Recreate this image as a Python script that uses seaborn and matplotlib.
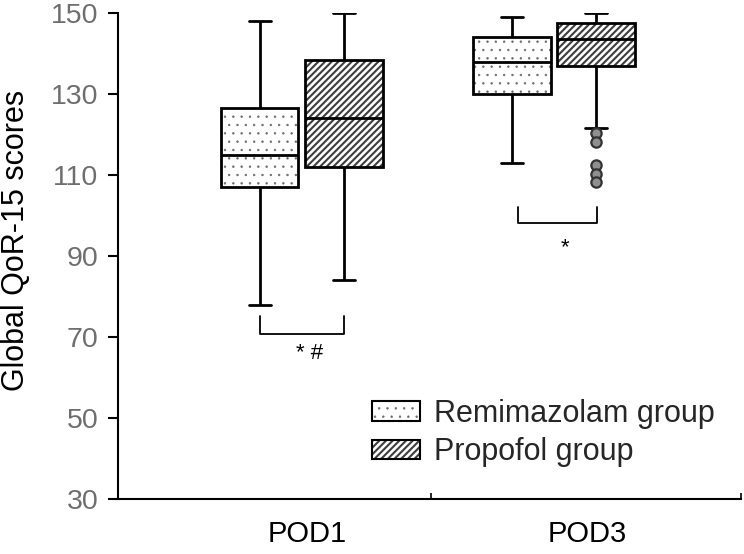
import numpy as np
import pandas as pd
import matplotlib
matplotlib.use("Agg")
import matplotlib.pyplot as plt
from matplotlib.patches import Patch
import seaborn as sns

# ---------------- data ----------------
days = ["POD1", "POD3"]
groups = ["Remimazolam group", "Propofol group"]
# five-number summaries: lower whisker, Q1, median, Q3, upper whisker
remi_pod1 = [78, 107, 115, 126.5, 148]
prop_pod1 = [84, 112, 124, 138.5, 150]
remi_pod3 = [113, 130, 138, 144, 149]
prop_pod3 = [121.5, 137, 143.5, 147.5, 150]
prop_pod3_outliers = [120.3, 118.2, 112.5, 110.3, 108.3]
y_ticks = [30, 50, 70, 90, 110, 130, 150]
ylabel = "Global QoR-15 scores"
# significance brackets: day, left/right ends (in group units), bracket y-range, label, label y
sig_days = [0, 1]
sig_left = [-1, -0.86]
sig_right = [1, 1.02]
sig_low = [70.8, 98.1]
sig_high = [75.2, 102.1]
sig_text = ["* #", "*"]
sig_text_y = [66.0, 92.0]

# ---------------- styling ----------------
sns.set_theme(style="white")
plt.rcParams["font.family"] = ["Liberation Sans", "DejaVu Sans"]
plt.rcParams["hatch.linewidth"] = 1.5

rows = []
for day, vals in zip(days, [remi_pod1, remi_pod3]):
    for v in vals:
        rows.append((day, groups[0], v))
for day, vals in zip(days, [prop_pod1, prop_pod3]):
    for v in vals:
        rows.append((day, groups[1], v))
df = pd.DataFrame(rows, columns=["day", "group", "score"])

fig = plt.figure(figsize=(7.44, 5.54), dpi=100)
ax = fig.add_axes([118 / 744, 1 - 499 / 554, 623 / 744, 486 / 554])

WIDTH = 0.667
GAP = 0.083
sns.boxplot(data=df, x="day", y="score", hue="group", order=days, hue_order=groups,
            width=WIDTH, gap=GAP, whis=np.inf, ax=ax, legend=False,
            palette=["white", "white"], linewidth=2, linecolor="black")

hatches = ["..", "/////"]
hatch_cols = [(0.42, 0.42, 0.42, 1), (0.24, 0.24, 0.24, 1)]
hatch_lws = [0.5, 1.5]
cap_half = 0.044


def style_hatch(p, i):
    p.set_hatch(hatches[i])
    p._hatch_color = hatch_cols[i]
    if hasattr(p, "_hatch_linewidth"):
        p._hatch_linewidth = hatch_lws[i]


for i, cont in enumerate(ax.containers):
    for b in cont.boxes:
        b.set_edgecolor("black")
        style_hatch(b, i)
        b.set_linewidth(2)
    for c in cont.caps:
        xd = np.asarray(c.get_xdata(), dtype=float)
        m = xd.mean()
        c.set_xdata([m - cap_half, m + cap_half])
        c.set_linewidth(2)
    for w in cont.whiskers:
        w.set_linewidth(2)
    for md in cont.medians:
        md.set_linewidth(2)

off = WIDTH / 4
# outliers for Propofol POD3
sns.scatterplot(x=[1 + off] * len(prop_pod3_outliers), y=prop_pod3_outliers, ax=ax,
                s=55, color="#8f8f8f", edgecolor="#333333", linewidth=1.6, zorder=5,
                legend=False)

# significance brackets
for d, l, r, lo, hi, t, ty in zip(sig_days, sig_left, sig_right, sig_low, sig_high,
                                  sig_text, sig_text_y):
    xl = d + l * off
    xr = d + r * off
    ax.plot([xl, xl, xr, xr], [hi, lo, lo, hi], color="black", lw=1.3)
    ax.text((xl + xr) / 2 + 0.03, ty, t, ha="center", va="center", fontsize=16,
            color="black")

ax.set_ylim(30, 150)
ax.set_xlim(-0.730, 1.742)
ax.set_yticks(y_ticks)
ax.set_yticklabels([str(v) for v in y_ticks], color="#6e6e6e", fontsize=20.5)
ax.tick_params(axis="y", direction="out", length=7, width=1.5, color="black", pad=7,
               left=True)
ax.set_xticks([0.02, 1.13])
ax.set_xticklabels(days, fontsize=21, color="black")
ax.tick_params(axis="x", which="major", length=0, pad=15)
ax.set_xticks([0.512, 1.742], minor=True)
ax.tick_params(axis="x", which="minor", direction="in", length=4, width=1.2,
               color="black", bottom=True)
ax.set_xlabel("")
ax.set_ylabel(ylabel, fontsize=22, color="black")
ax.yaxis.set_label_coords(-0.140, 0.533)

for s in ["top", "right"]:
    ax.spines[s].set_visible(False)
for s in ["left", "bottom"]:
    ax.spines[s].set_color("black")
    ax.spines[s].set_linewidth(1.5)

handles = [Patch(facecolor="white", edgecolor="black", linewidth=1.5),
           Patch(facecolor="white", edgecolor="black", linewidth=1.5)]
leg = fig.legend(handles, groups, loc="upper left", bbox_to_anchor=(372 / 744, 1 - 399 / 554),
                 frameon=False, fontsize=22, handlelength=1.57, handleheight=0.62,
                 handletextpad=0.45, labelspacing=0.27, borderpad=0, borderaxespad=0)
for i, p in enumerate(leg.get_patches()):
    style_hatch(p, i)

fig.savefig("out.png", dpi=100)
